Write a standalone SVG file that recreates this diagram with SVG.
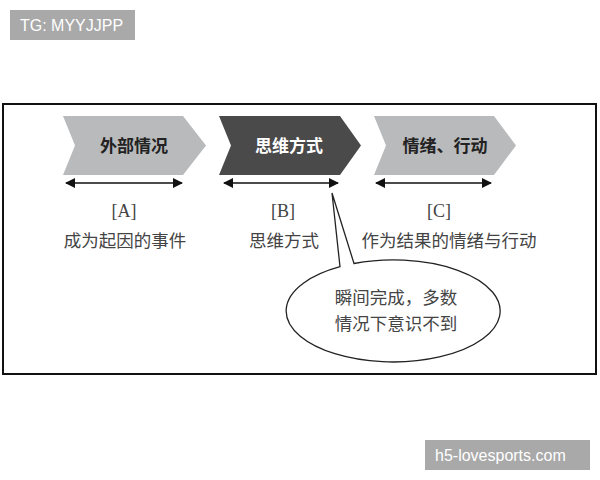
<svg xmlns="http://www.w3.org/2000/svg" width="600" height="480" viewBox="0 0 600 480">
<defs>
<style>
.wm{fill:#a9a9a9}
.wmt{font-family:"Liberation Sans",Arial,sans-serif;font-size:16px;fill:#fff}
.light{fill:#b9babc}
.dark{fill:#4a4a4a}
.ct{font-family:"Noto Sans CJK SC",sans-serif;font-size:17px;font-weight:bold;text-anchor:middle}
.lb{font-family:"Liberation Serif","Noto Sans CJK SC",serif;font-size:18px;fill:#444;text-anchor:middle}
.cn{font-family:"Noto Sans CJK SC",sans-serif;font-size:17.5px;fill:#444;text-anchor:middle}
.ln{stroke:#111;stroke-width:1.5;fill:none}
</style>
<marker id="ah" viewBox="0 0 10 10" refX="9" refY="5" markerWidth="14" markerHeight="10" markerUnits="userSpaceOnUse" orient="auto-start-reverse">
<path d="M0,0 L10,5 L0,10 z" fill="#111"/>
</marker>
</defs>
<rect width="600" height="480" fill="#fff"/>
<g id="wm1"><rect class="wm" x="10" y="10" width="125" height="30"/><text class="wmt" x="20" y="31">TG: MYYJJPP</text></g>
<g id="wm2"><rect class="wm" x="425" y="440" width="165" height="30"/><text class="wmt" x="435" y="461">h5-lovesports.com</text></g>
<g id="frame"><rect x="3" y="104" width="593" height="270" fill="none" stroke="#111" stroke-width="2"/></g>
<g id="nodeA">
<polygon class="light" points="63,116 183,116 206,145.5 183,175 63,175 75,145.5"/>
<text class="ct" x="134" y="151.5" fill="#222">外部情况</text>
</g>
<g id="nodeB">
<polygon class="dark" points="219,116 340,116 361,145.5 340,175 219,175 231,145.5"/>
<text class="ct" x="289" y="151.5" fill="#fff">思维方式</text>
</g>
<g id="nodeC">
<polygon class="light" points="374,116 494,116 516,145.5 494,175 374,175 386,145.5"/>
<text class="ct" x="445" y="151.5" fill="#222">情绪、行动</text>
</g>
<g id="connectors">
<line class="ln" x1="66" y1="183" x2="182" y2="183" marker-start="url(#ah)" marker-end="url(#ah)"/>
<line class="ln" x1="224" y1="183" x2="338" y2="183" marker-start="url(#ah)" marker-end="url(#ah)"/>
<line class="ln" x1="376" y1="183" x2="491" y2="183" marker-start="url(#ah)" marker-end="url(#ah)"/>
</g>
<g id="labelA"><text class="lb" x="124" y="217">[A]</text><text class="cn" x="125" y="247">成为起因的事件</text></g>
<g id="labelB"><text class="lb" x="283" y="217">[B]</text><text class="cn" x="284" y="247">思维方式</text></g>
<g id="labelC"><text class="lb" x="439" y="217">[C]</text><text class="cn" x="449" y="247">作为结果的情绪与行动</text></g>
<g id="bubble">
<path d="M340,266.7 L332,193 L354,263.5 A107,51 0 1 1 340,266.7 Z" fill="#fff" stroke="#222" stroke-width="1.3"/>
<text class="cn" x="396" y="304">瞬间完成，多数</text>
<text class="cn" x="396" y="330">情况下意识不到</text>
</g>
</svg>
